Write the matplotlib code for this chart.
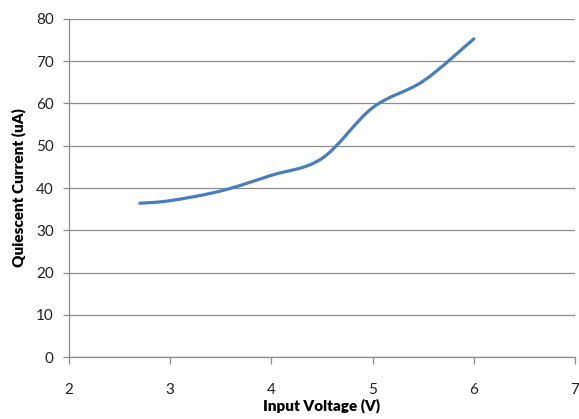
import numpy as np
import matplotlib.pyplot as plt
from matplotlib.path import Path
from matplotlib.patches import PathPatch

# measured points
voltage = [2.7, 3.0, 3.5, 4.0, 4.5, 5.0, 5.5, 6.0]
current = [36.4, 37.0, 39.3, 43.0, 47.0, 59.0, 65.3, 75.3]
x_ticks = [2, 3, 4, 5, 6, 7]
y_ticks = [0, 10, 20, 30, 40, 50, 60, 70, 80]

plt.rcParams['font.family'] = ['Lato', 'DejaVu Sans']

fig = plt.figure(figsize=(5.79, 4.19), dpi=100)
ax = fig.add_axes([69/579, 1-357/419, (575-69)/579, (357-19)/419])

# excel-like smoothed line as bezier path
pts = np.column_stack([voltage, current])
n = len(pts)
verts = [pts[0]]
codes = [Path.MOVETO]
for i in range(n - 1):
    p0 = pts[max(i - 1, 0)]
    p1 = pts[i]
    p2 = pts[i + 1]
    p3 = pts[min(i + 2, n - 1)]
    c1 = p1 + (p2 - p0) / 6
    c2 = p2 - (p3 - p1) / 6
    verts += [c1, c2, p2]
    codes += [Path.CURVE4] * 3
patch = PathPatch(Path(verts, codes), fill=False, edgecolor='#4A7EBB',
                  lw=2.3, capstyle='round', joinstyle='round', zorder=3)
ax.add_patch(patch)

ax.set_xlim(2, 7)
ax.set_ylim(0, 80)
ax.set_xticks(x_ticks)
ax.set_yticks(y_ticks)
ax.yaxis.grid(True, color='#8C8C8C', lw=0.9)
ax.set_axisbelow(True)
for s in ['top', 'right']:
    ax.spines[s].set_visible(False)
for s in ['left', 'bottom']:
    ax.spines[s].set_color('#8C8C8C')
    ax.spines[s].set_linewidth(0.9)
ax.tick_params(axis='x', length=5, width=0.9, color='#8C8C8C', pad=14,
               labelsize=11, labelcolor='#222222')
ax.tick_params(axis='y', length=4, width=0.9, color='#8C8C8C', pad=7,
               labelsize=11, labelcolor='#222222')
ax.set_xlabel('Input Voltage (V)', fontsize=11, fontweight='heavy', labelpad=1)
ax.set_ylabel('Quiescent Current (uA)', fontsize=11, fontweight='heavy', labelpad=7)

fig.savefig('out.png', dpi=100)
